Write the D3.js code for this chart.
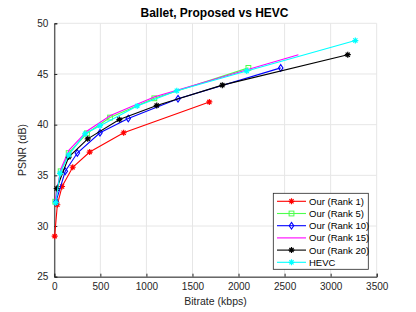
<!DOCTYPE html>
<html>
<head>
<meta charset="utf-8">
<script src="https://cdn.jsdelivr.net/npm/d3@7"></script>
<style>
  body { margin: 0; background: #fff; }
  svg { display: block; font-family: "Liberation Sans", Arial, sans-serif; }
</style>
</head>
<body>
<svg id="chart" width="416" height="312"></svg>
<script>
// data (bitrate kbps, PSNR dB)
const rank1X = [4, 33, 84, 200, 384, 753, 1683];
const rank1Y = [29.0, 32.1, 33.9, 35.8, 37.3, 39.2, 42.24];

const rank5X = [11, 69, 156, 355, 605, 1086, 2107];
const rank5Y = [32.4, 35.4, 37.2, 39.15, 40.7, 42.6, 45.6];

const rank10X = [18, 119, 250, 496, 803, 1343, 2458];
const rank10Y = [32.4, 35.4, 37.2, 39.2, 40.6, 42.56, 45.6];

const rank15X = [12, 70, 160, 360, 610, 1090, 2650];
const rank15Y = [32.6, 35.6, 37.5, 39.4, 40.9, 42.75, 46.9];

const rank20X = [26, 156, 363, 706, 1112, 1824, 3186];
const rank20Y = [33.7, 36.8, 38.6, 40.5, 41.9, 43.9, 46.9];

const hevcX = [15, 62, 156, 334, 497, 900, 1330, 2089, 3268];
const hevcY = [32.3, 35.2, 37.0, 39.1, 39.9, 41.85, 43.35, 45.3, 48.3];

const xTicks = [0, 500, 1000, 1500, 2000, 2500, 3000, 3500];
const yTicks = [25, 30, 35, 40, 45, 50];

const seriesNames = ["Our (Rank 1)", "Our (Rank 5)", "Our (Rank 10)", "Our (Rank 15)", "Our (Rank 20)", "HEVC"];
const seriesColors = ["#ff0000", "#4dff4d", "#0000ff", "#ff00ff", "#000000", "#00ffff"];
const seriesMarkers = ["star", "square", "diamond", "none", "star", "star"];
const seriesXs = [rank1X, rank5X, rank10X, rank15X, rank20X, hevcX];
const seriesYs = [rank1Y, rank5Y, rank10Y, rank15Y, rank20Y, hevcY];

const svg = d3.select("#chart");

const plotLeft = 54.3, plotRight = 376.7, plotTop = 23.3, plotBottom = 276.7;

const x = d3.scaleLinear().domain([0, 3500]).range([plotLeft, plotRight]);
const y = d3.scaleLinear().domain([25, 50]).range([plotBottom, plotTop]);

//----- grid
svg.append("g").selectAll("line").data(xTicks).join("line")
  .attr("x1", d => x(d)).attr("x2", d => x(d))
  .attr("y1", plotTop).attr("y2", plotBottom)
  .attr("stroke", "#e6e6e6").attr("stroke-width", 1);
svg.append("g").selectAll("line").data(yTicks).join("line")
  .attr("x1", plotLeft).attr("x2", plotRight)
  .attr("y1", d => y(d)).attr("y2", d => y(d))
  .attr("stroke", "#e6e6e6").attr("stroke-width", 1);

//----- axes
const xAxis = svg.append("g").attr("transform", "translate(0," + plotBottom + ")")
  .call(d3.axisBottom(x).tickValues(xTicks).tickSize(-3).tickPadding(6).tickFormat(d3.format("d")));
const yAxis = svg.append("g").attr("transform", "translate(" + plotLeft + ",0)")
  .call(d3.axisLeft(y).tickValues(yTicks).tickSize(-3).tickPadding(6).tickFormat(d3.format("d")));

for (let ax of [xAxis, yAxis]) {
  ax.select(".domain").attr("stroke", "#262626").attr("stroke-width", 1);
  ax.selectAll(".tick line").attr("stroke", "#262626");
  ax.selectAll(".tick text").attr("fill", "#262626").attr("font-size", 10)
    .attr("font-family", "Liberation Sans, Arial, sans-serif");
}

//----- markers
function drawMarker(g, type, cx, cy, color, size) {
  let s = size / 2;
  if (type == "star") {
    let d = "M" + (cx - s) + "," + cy + "L" + (cx + s) + "," + cy +
            "M" + cx + "," + (cy - s) + "L" + cx + "," + (cy + s) +
            "M" + (cx - s * 0.7) + "," + (cy - s * 0.7) + "L" + (cx + s * 0.7) + "," + (cy + s * 0.7) +
            "M" + (cx - s * 0.7) + "," + (cy + s * 0.7) + "L" + (cx + s * 0.7) + "," + (cy - s * 0.7);
    g.append("path").attr("d", d).attr("stroke", color).attr("stroke-width", 1.2).attr("fill", "none");
  } else if (type == "square") {
    g.append("rect").attr("x", cx - s * 0.8).attr("y", cy - s * 0.8)
      .attr("width", s * 1.6).attr("height", s * 1.6)
      .attr("stroke", color).attr("fill", "none").attr("stroke-width", 1);
  } else if (type == "diamond") {
    let d = "M" + cx + "," + (cy - s * 1.1) + "L" + (cx + s * 0.75) + "," + cy +
            "L" + cx + "," + (cy + s * 1.1) + "L" + (cx - s * 0.75) + "," + cy + "Z";
    g.append("path").attr("d", d).attr("stroke", color).attr("fill", "none").attr("stroke-width", 1.1);
  }
}

//----- lines
const line = d3.line().x(d => x(d[0])).y(d => y(d[1]));

for (let i = 0; i < seriesNames.length; i++) {
  let pts = seriesXs[i].map((v, j) => [v, seriesYs[i][j]]);
  let g = svg.append("g");
  g.append("path").datum(pts).attr("d", line)
    .attr("fill", "none").attr("stroke", seriesColors[i]).attr("stroke-width", 1.1);
  for (let p of pts) {
    drawMarker(g, seriesMarkers[i], x(p[0]), y(p[1]), seriesColors[i], 6);
  }
}

//----- legend
const lg = svg.append("g");
lg.append("rect").attr("x", 273.3).attr("y", 193.3).attr("width", 95).attr("height", 76)
  .attr("fill", "#fff").attr("stroke", "#262626").attr("stroke-width", 0.8);
for (let i = 0; i < seriesNames.length; i++) {
  let ly = 201.3 + i * 12.2;
  lg.append("line").attr("x1", 277).attr("x2", 306).attr("y1", ly).attr("y2", ly)
    .attr("stroke", seriesColors[i]).attr("stroke-width", 1.1);
  drawMarker(lg, seriesMarkers[i], 291.5, ly, seriesColors[i], 6);
  lg.append("text").attr("x", 309).attr("y", ly + 3.5).text(seriesNames[i])
    .attr("font-size", 9.5).attr("fill", "#000");
}

//----- titles
svg.append("text").attr("x", 214.5).attr("y", 17).attr("text-anchor", "middle")
  .attr("font-size", 12).attr("font-weight", "bold").attr("fill", "#000")
  .text("Ballet, Proposed vs HEVC");
svg.append("text").attr("x", x(1750)).attr("y", 305).attr("text-anchor", "middle")
  .attr("font-size", 10.5).attr("fill", "#262626").text("Bitrate (kbps)");
svg.append("text").attr("transform", "translate(26," + y(37.5) + ") rotate(-90)")
  .attr("text-anchor", "middle").attr("font-size", 10.5).attr("fill", "#262626").text("PSNR (dB)");
</script>
</body>
</html>
